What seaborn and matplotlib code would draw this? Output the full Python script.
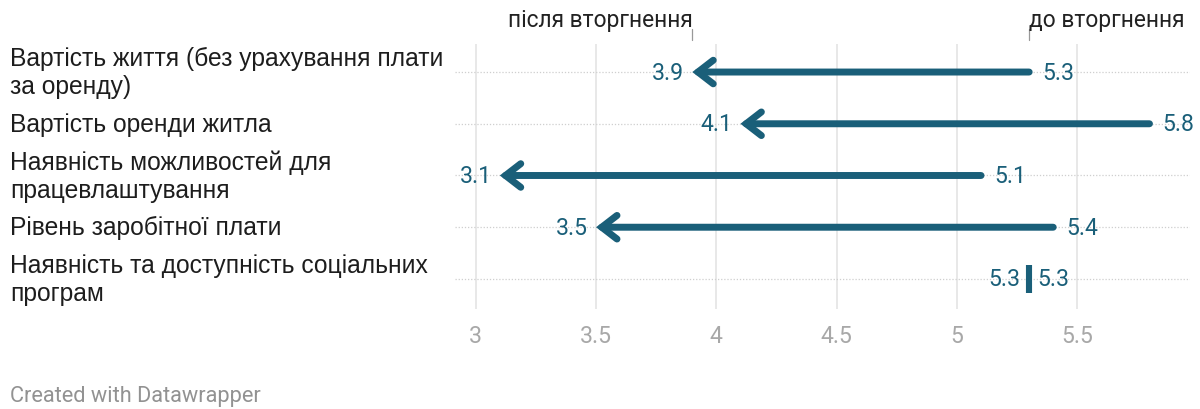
import matplotlib
matplotlib.use("Agg")
import matplotlib.pyplot as plt
import matplotlib.transforms as mtransforms
import seaborn as sns
import pandas as pd

# Survey scores before and after the invasion, one row per factor
categories = [
    "Вартість життя (без урахування плати\nза оренду)",
    "Вартість оренди житла",
    "Наявність можливостей для\nпрацевлаштування",
    "Рівень заробітної плати",
    "Наявність та доступність соціальних\nпрограм",
]
before = [5.3, 5.8, 5.1, 5.4, 5.3]
after = [3.9, 4.1, 3.1, 3.5, 5.3]
x_ticks = [3, 3.5, 4, 4.5, 5, 5.5]
label_before = "до вторгнення"
label_after = "після вторгнення"
footer = "Created with Datawrapper"

df = pd.DataFrame({"category": categories, "before": before, "after": after})
df["row"] = range(len(df))

sns.set_theme(style="white")
plt.rcParams["font.family"] = ["Roboto", "DejaVu Sans"]

TEAL = "#1a5f79"
GRID = "#e4e4e4"
TICK_GREY = "#a8a8a8"
NUM_SIZE = 16.6

fig = plt.figure(figsize=(12, 4.1), dpi=100)
ax = fig.add_axes([0.379, 0.244, 0.613, 0.646])

ax.set_xlim(2.913, 5.97)
ax.set_ylim(4.58, -0.54)

# vertical grid
for t in x_ticks:
    ax.axvline(t, color=GRID, lw=1.2, zorder=0)

# dotted row guides
ax.hlines(df["row"], 2.913, 5.97, colors="#cfcfcf", linestyles=(0, (1, 1.5)), lw=0.9, zorder=1)

same = df[df["before"] == df["after"]]
diff = df[df["before"] != df["after"]]

for _, r in diff.iterrows():
    ax.annotate(
        "", xy=(r["after"], r["row"]), xytext=(r["before"], r["row"]),
        arrowprops=dict(arrowstyle="->,head_length=11,head_width=8.5",
                        color=TEAL, lw=5, shrinkA=0, shrinkB=0,
                        mutation_scale=1, capstyle="round", joinstyle="miter"),
        zorder=3,
    )

# unchanged values shown as a short vertical bar
sns.scatterplot(data=same, x="before", y="row", marker="|", s=380,
                linewidth=4.4, color=TEAL, ax=ax, zorder=3, legend=False)

for _, r in df.iterrows():
    changed = r["before"] != r["after"]
    lo, hi = min(r["before"], r["after"]), max(r["before"], r["after"])
    ax.text(lo - (0.033 if changed else 0.035), r["row"], f"{r['after']:.1f}",
            ha="right", va="center", color=TEAL, fontsize=NUM_SIZE, zorder=4)
    ax.text(hi + (0.055 if changed else 0.033), r["row"], f"{r['before']:.1f}",
            ha="left", va="center", color=TEAL, fontsize=NUM_SIZE, zorder=4)

# category labels, left-aligned at the figure edge
label_tf = mtransforms.blended_transform_factory(fig.transFigure, ax.transData)
for _, r in df.iterrows():
    ax.text(10 / 1200, r["row"], r["category"], transform=label_tf,
            ha="left", va="center", fontsize=17.7, color="#1d1d1d",
            linespacing=1.22, family=["Liberation Sans", "DejaVu Sans"])

# header labels attached to the first row
first = df.iloc[0]
for xv in (first["after"], first["before"]):
    ax.plot([xv, xv], [-0.83, -0.62], color="#999999", lw=0.9, clip_on=False)
ax.text(first["after"], -1.02, label_after, ha="right", va="center", fontsize=16.4,
        color="#222222", clip_on=False)
ax.text(first["before"], -1.02, label_before, ha="left", va="center", fontsize=16.4,
        color="#222222", clip_on=False)

ax.set_xticks(x_ticks)
ax.set_xticklabels([f"{t:g}" for t in x_ticks], color=TICK_GREY, fontsize=NUM_SIZE)
ax.tick_params(axis="x", length=0, pad=11)
ax.set_yticks([])
ax.set_xlabel("")
ax.set_ylabel("")
for s in ax.spines.values():
    s.set_visible(False)

fig.text(10 / 1200, 1 - 397 / 410, footer, ha="left", va="center", fontsize=15.7,
         color="#929292")

fig.savefig("out.png", dpi=100)
